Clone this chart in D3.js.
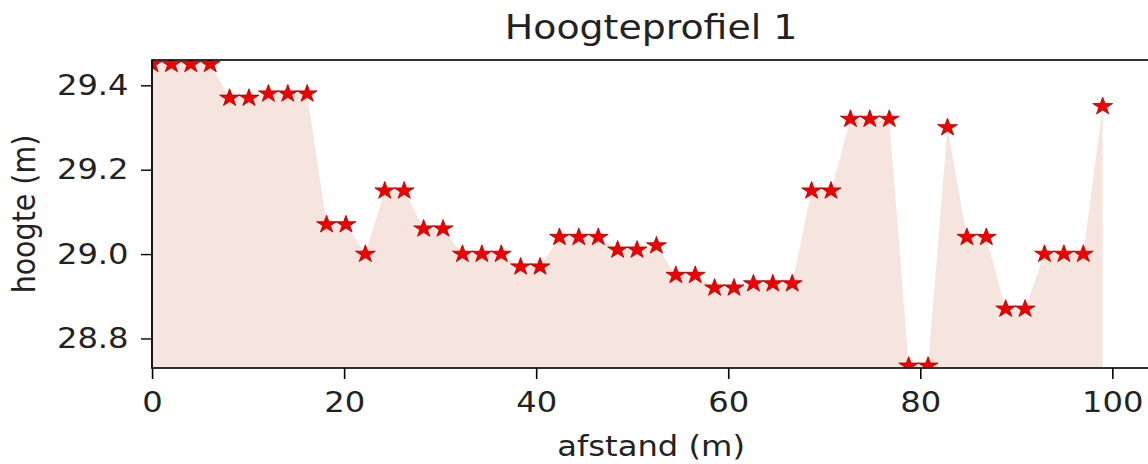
<!DOCTYPE html>
<html>
<head>
<meta charset="utf-8">
<script src="https://cdn.jsdelivr.net/npm/d3@7"></script>
<style>
  body { margin: 0; background: #fff; }
  svg { display: block; }
</style>
</head>
<body>
<svg id="chart"></svg>
<script>
// afstand langs het profiel (m) en gemeten hoogte (m)
var afstand = [0, 2.02, 4.04, 6.06, 8.08, 10.1, 12.12, 14.14, 16.16, 18.18,
    20.2, 22.22, 24.24, 26.26, 28.29, 30.31, 32.33, 34.35, 36.37, 38.39,
    40.41, 42.43, 44.45, 46.47, 48.49, 50.51, 52.53, 54.55, 56.57, 58.59,
    60.61, 62.63, 64.65, 66.67, 68.69, 70.71, 72.73, 74.75, 76.78, 78.8,
    80.82, 82.84, 84.86, 86.88, 88.9, 90.92, 92.94, 94.96, 96.98, 99];
var hoogte = [29.45, 29.45, 29.45, 29.45, 29.37, 29.37, 29.38, 29.38, 29.38, 29.07,
    29.07, 29.0, 29.15, 29.15, 29.06, 29.06, 29.0, 29.0, 29.0, 28.97,
    28.97, 29.04, 29.04, 29.04, 29.01, 29.01, 29.02, 28.95, 28.95, 28.92,
    28.92, 28.93, 28.93, 28.93, 29.15, 29.15, 29.32, 29.32, 29.32, 28.735,
    28.735, 29.3, 29.04, 29.04, 28.87, 28.87, 29.0, 29.0, 29.0, 29.35];
var xTicks = [0, 20, 40, 60, 80, 100];
var yTicks = [28.8, 29.0, 29.2, 29.4];
var xDomain = [0, 103.95];
var yDomain = [28.73, 29.46];

var titel = "Hoogteprofiel 1";
var xLabel = "afstand (m)";
var yLabel = "hoogte (m)";

// picture is wider than it is tall-scaled: draw in a narrower box and stretch
var W = 1148, H = 464, S = 1.13;
var VW = W / S;

var margin = { left: 152 / S, right: 1150.2 / S, top: 60, bottom: 368 };
var font = "'DejaVu Sans', sans-serif";

var svg = d3.select("#chart")
    .attr("width", W)
    .attr("height", H)
    .attr("viewBox", "0 0 " + VW + " " + H)
    .attr("preserveAspectRatio", "none");

var x = d3.scaleLinear().domain(xDomain).range([margin.left, margin.right]);
var y = d3.scaleLinear().domain(yDomain).range([margin.bottom, margin.top]);

svg.append("clipPath")
    .attr("id", "plotclip")
    .append("rect")
    .attr("x", margin.left)
    .attr("y", margin.top)
    .attr("width", margin.right - margin.left)
    .attr("height", margin.bottom - margin.top);

var data = afstand.map(function(d, i) { return { a: d, h: hoogte[i] }; });

var plot = svg.append("g").attr("clip-path", "url(#plotclip)");

var area = d3.area()
    .x(function(d) { return x(d.a); })
    .y0(y(yDomain[0]))
    .y1(function(d) { return y(d.h); });

plot.append("path")
    .datum(data)
    .attr("d", area)
    .attr("fill", "#f6e4de");

var star = d3.symbol().type(d3.symbolStar).size(96);

plot.selectAll(".ster")
    .data(data)
    .enter().append("path")
    .attr("class", "ster")
    .attr("d", star)
    .attr("transform", function(d) { return "translate(" + x(d.a) + "," + y(d.h) + ")"; })
    .attr("fill", "#ee0000")
    .attr("stroke", "#b80000")
    .attr("stroke-width", 0.8);

// spines
svg.append("rect")
    .attr("x", margin.left)
    .attr("y", margin.top)
    .attr("width", margin.right - margin.left)
    .attr("height", margin.bottom - margin.top)
    .attr("fill", "none")
    .attr("stroke", "#000")
    .attr("stroke-width", 1.6);

var xAxis = d3.axisBottom(x)
    .tickValues(xTicks)
    .tickFormat(d3.format("d"))
    .tickSize(11)
    .tickSizeOuter(0)
    .tickPadding(13);

var gx = svg.append("g")
    .attr("transform", "translate(0," + margin.bottom + ")")
    .call(xAxis);
gx.select(".domain").remove();
gx.selectAll("line").attr("stroke", "#000").attr("stroke-width", 1.4);
gx.selectAll("text")
    .attr("font-family", font)
    .attr("font-size", "28.5px")
    .attr("fill", "#222");

var yAxis = d3.axisLeft(y)
    .tickValues(yTicks)
    .tickFormat(d3.format(".1f"))
    .tickSize(11 / S)
    .tickSizeOuter(0)
    .tickPadding(11);

var gy = svg.append("g")
    .attr("transform", "translate(" + margin.left + ",0)")
    .call(yAxis);
gy.select(".domain").remove();
gy.selectAll("line").attr("stroke", "#000").attr("stroke-width", 1.4);
gy.selectAll("text")
    .attr("font-family", font)
    .attr("font-size", "28.5px")
    .attr("fill", "#222");

svg.append("text")
    .attr("x", (margin.left + margin.right) / 2)
    .attr("y", 39)
    .attr("text-anchor", "middle")
    .attr("font-family", font)
    .attr("font-size", "33.5px")
    .attr("fill", "#222")
    .text(titel);

svg.append("text")
    .attr("x", (margin.left + margin.right) / 2)
    .attr("y", 456)
    .attr("text-anchor", "middle")
    .attr("font-family", font)
    .attr("font-size", "28.5px")
    .attr("fill", "#222")
    .text(xLabel);

svg.append("text")
    .attr("transform", "translate(" + (34.5 / S) + "," + ((margin.top + margin.bottom) / 2) + ") rotate(-90)")
    .attr("text-anchor", "middle")
    .attr("font-family", font)
    .attr("font-size", "28.5px")
    .attr("fill", "#222")
    .text(yLabel);
</script>
</body>
</html>
